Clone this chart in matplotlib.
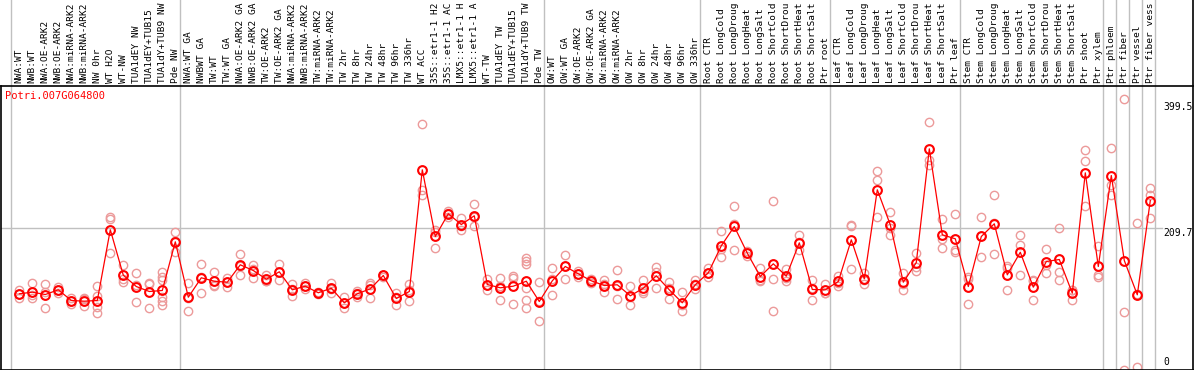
import numpy as np
import matplotlib
matplotlib.use('Agg')
import matplotlib.pyplot as plt

plt.rcParams['font.family'] = ['DejaVu Sans Mono']

# 基因名
gene = 'Potri.007G064800'

# 样本名（x轴标签，按原图只显示前14个字符）
labels = [
    'NWA:WT', 'NWB:WT', 'NWA:OE-ARK2', 'NWB:OE-ARK2', 'NWA:miRNA-ARK2', 'NWB:miRNA-ARK2',
    'NW 0hr', 'WT H2O', 'WT-NW', 'TUA1dEY NW', 'TUA1dEY+TUB15', 'TUA1dY+TUB9 NW', 'Pde NW',
    'NWA:WT GA', 'NWBWT GA', 'TW:WT', 'TW:WT GA', 'NWA:OE-ARK2 GA', 'NWB:OE-ARK2 GA',
    'TW:OE-ARK2', 'TW:OE-ARK2 GA', 'NWA:miRNA-ARK2', 'NWB:miRNA-ARK2', 'TW:miRNA-ARK2',
    'TW:miRNA-ARK2', 'TW 2hr', 'TW 8hr', 'TW 24hr', 'TW 48hr', 'TW 96hr', 'TW 336hr',
    'WT ACC', '35S::etr1-1 H2', '35S::etr1-1 AC', 'LMX5::etr1-1 H', 'LMX5::etr1-1 A',
    'WT-TW', 'TUA1dEY TW', 'TUA1dEY+TUB15', 'TUA1dY+TUB9 TW', 'Pde TW',
    'OW:WT', 'OW:WT GA', 'OW:OE-ARK2', 'OW:OE-ARK2 GA', 'OW:miRNA-ARK2', 'OW:miRNA-ARK2',
    'OW 2hr', 'OW 8hr', 'OW 24hr', 'OW 48hr', 'OW 96hr', 'OW 336hr',
    'Root CTR', 'Root LongCold', 'Root LongDroug', 'Root LongHeat', 'Root LongSalt',
    'Root ShortCold', 'Root ShortDrou', 'Root ShortHeat', 'Root ShortSalt', 'Ptr root',
    'Leaf CTR', 'Leaf LongCold', 'Leaf LongDroug', 'Leaf LongHeat', 'Leaf LongSalt',
    'Leaf ShortCold', 'Leaf ShortDrou', 'Leaf ShortHeat', 'Leaf ShortSalt', 'Ptr leaf',
    'Stem CTR', 'Stem LongCold', 'Stem LongDroug', 'Stem LongHeat', 'Stem LongSalt',
    'Stem ShortCold', 'Stem ShortDrou', 'Stem ShortHeat', 'Stem ShortSalt', 'Ptr shoot',
    'Ptr xylem', 'Ptr phloem', 'Ptr fiber', 'Ptr vessel', 'Ptr fiber vess',
]

# 每个样本的平均值（折线）
means = [
    112.6, 115.0, 111.5, 118.5, 102.6, 101.6, 102.6, 207.8, 140.2, 123.4,
    116.0, 117.5, 189.9, 107.5, 136.4, 131.3, 129.8, 155.7, 147.2, 134.3,
    145.3, 118.5, 123.9, 114.1, 120.9, 99.2, 112.6, 120.0, 139.8, 105.6,
    116.0, 297.0, 197.8, 231.6, 215.6, 228.6, 126.4, 121.5, 123.9, 131.3,
    101.1, 131.9, 153.2, 142.3, 131.9, 124.9, 126.0, 109.6, 120.9, 139.4,
    118.5, 99.2, 126.0, 143.8, 184.0, 212.7, 173.0, 138.3, 157.2, 138.8,
    188.4, 119.0, 118.5, 130.9, 192.9, 134.9, 267.3, 215.2, 129.8, 159.1,
    328.2, 200.3, 194.4, 123.4, 197.8, 216.7, 140.8, 174.4, 122.4, 160.6,
    163.6, 113.5, 292.5, 153.2, 288.5, 162.1, 111.1, 251.3,
]

# 各重复的值（散点）
reps = [
    [118.5, 112.6, 106.7], [128.9, 106.0, 110.1], [127.5, 91.8, 115.2], [123.4, 118.5, 113.5],
    [106.0, 102.6, 97.7], [106.0, 93.7, 105.1], [123.9, 92.7, 84.3, 109.5], [226.5, 223.1, 173.6],
    [155.7, 130.4, 134.5], [143.8, 100.1, 126.3], [127.5, 91.8, 128.7],
    [144.3, 138.3, 133.4, 107.5, 102.6, 95.2], [204.2, 174.4, 191.1],
    [128.9, 87.7, 105.9], [157.2, 114.1, 137.9], [144.3, 124.5, 125.1], [136.4, 129.8, 123.2],
    [172.1, 140.8, 154.2], [155.7, 135.8, 150.1], [139.8, 130.9, 132.2], [157.2, 133.4, 145.3],
    [127.5, 109.0, 119.0], [120.0, 124.0, 128.0], [112.0, 114.0, 116.0], [128.9, 114.1, 119.7],
    [107.5, 91.8, 98.3], [116.4, 107.5, 113.9], [128.3, 106.6, 125.1], [138.0, 140.0, 141.0],
    [113.5, 96.2, 107.1], [127.5, 102.2, 118.3], [365.4, 267.3, 258.8], [207.8, 181.4, 204.2],
    [235.0, 226.5, 233.3], [225.6, 207.2, 214.0], [246.4, 212.7, 226.7], [135.3, 117.5, 126.4],
    [136.8, 103.7, 124.0], [139.4, 96.7, 135.6],
    [166.1, 161.1, 156.2, 121.5, 103.7, 91.8], [129.4, 71.4, 102.5],
    [151.2, 110.1, 134.4], [170.6, 134.9, 154.1], [138.0, 142.0, 147.0], [129.0, 132.0, 135.0],
    [132.4, 115.0, 127.3], [148.3, 105.1, 124.6], [124.5, 96.2, 108.1], [132.4, 116.4, 113.9],
    [152.1, 144.3, 121.5], [129.8, 105.1, 120.6], [116.0, 86.3, 95.3], [132.4, 119.0, 126.6],
    [150.7, 137.3, 143.4], [206.3, 167.0, 178.7], [243.5, 178.0, 216.6], [175.9, 169.4, 173.7],
    [150.7, 131.3, 132.9], [251.3, 134.9, 86.3], [149.2, 131.3, 135.9], [199.3, 177.0, 188.9],
    [132.4, 103.7, 120.9], [127.5, 113.5, 114.5],
    [138.8, 124.9, 129.0], [215.2, 212.7, 149.8], [143.8, 127.5, 133.4], [294.5, 282.1, 227.1],
    [234.5, 200.3, 210.8], [143.2, 118.5, 127.7], [173.6, 152.1, 147.2], [368.4, 311.9, 303.4],
    [224.1, 194.4, 181.0], [231.4, 178.0, 174.4],
    [137.3, 97.7, 135.2], [227.5, 168.0, 197.9], [259.8, 172.1, 218.2], [153.6, 118.5, 150.3],
    [199.3, 185.9, 139.8], [132.4, 103.7, 131.1], [179.5, 154.7, 143.8], [210.7, 144.7, 132.4],
    [118.5, 103.7, 118.3], [325.7, 310.8, 243.5],
    [183.4, 139.8, 137.3], [329.7, 275.1, 259.8], [402.6, 84.8, 0.0], [218.2, 3.4, 111.7],
    [270.2, 258.8, 225.0],
]

# 分组边界（灰色竖线）
groups = [0, 13, 41, 53, 63, 73, 84, 85, 86, 87, 88]

# 右侧刻度
yticks = [399.5, 209.7, 0]

W, H = 1194, 370
fig = plt.figure(figsize=(W / 100, H / 100), dpi=100)
ax_top, ax_bot = 86, 369.5
ax_h = ax_bot - ax_top
ax = fig.add_axes([1 / W, (H - ax_bot) / H, 1192 / W, ax_h / H])

n = len(labels)
x = np.arange(n)
ax.set_xlim((1 - 19.3) / 13, (1193 - 19.3) / 13)
ax.set_ylim(0, ax_h * 1.4872)
ax.set_xticks([])
ax.set_yticks([])
for s in ax.spines.values():
    s.set_color('black')
    s.set_linewidth(1.2)
ax.spines['right'].set_visible(False)

ext = 1 + ax_top / ax_h
for g in groups:
    ax.axvline(g - 0.65, ymin=0, ymax=ext, color='#c0c0c0', lw=1, clip_on=False, zorder=1)
ax.axvline(ax.get_xlim()[1], ymin=0, ymax=ext, color='black', lw=1.2, clip_on=False, zorder=5)
ax.axhline(yticks[1], xmax=(1162 - 1) / 1192, color='#c0c0c0', lw=1, zorder=1)

# 重复值散点
for i, r in enumerate(reps):
    ax.plot([i] * len(r), r, 'o', mfc='none', mec='#ec9a9a', ms=6, mew=1.0, zorder=2)

# 平均值折线
ax.plot(x, means, '-', color='red', lw=0.9, zorder=3)
ax.plot(x, means, 'o', mfc='none', mec='red', ms=6.3, mew=1.5, zorder=4)

# 顶部样本标签
trans = ax.get_xaxis_transform()
for i, lab in enumerate(labels):
    ax.text(i, 1 + 3 / ax_h, lab, transform=trans, rotation=90, ha='center', va='bottom',
            fontsize=6.8, clip_on=False)

# 标题
ax.text(4 / 1192, 1 - 5 / ax_h, gene, transform=ax.transAxes, color='red',
        fontsize=7.5, ha='left', va='top')

# 右侧数值
tx = (1163 - 1) / 1192
ytr = ax.get_yaxis_transform()
ax.text(tx, yticks[0] - 2, '%.1f' % yticks[0], transform=ytr, fontsize=7, ha='left', va='top')
ax.text(tx, yticks[1], '%.1f' % yticks[1], transform=ytr, fontsize=7, ha='left', va='top')
ax.text(tx, 4, '0', transform=ytr, fontsize=7, ha='left', va='bottom')

fig.savefig('out.png', dpi=100)
